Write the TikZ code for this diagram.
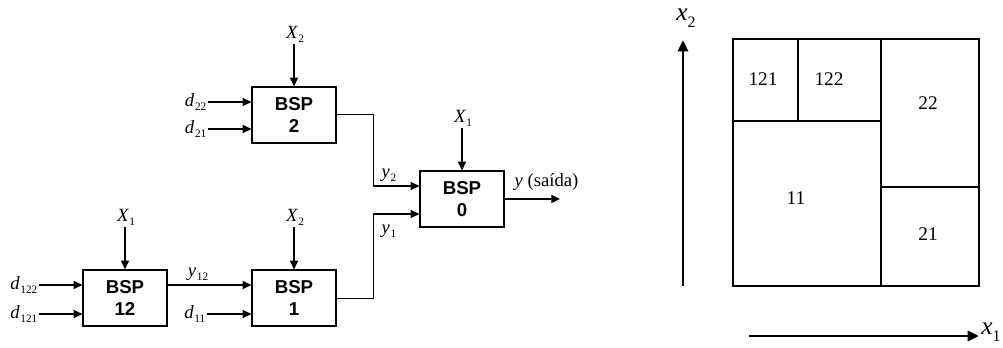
\documentclass[tikz,border=0pt]{standalone}
\usepackage{fontspec}
\setmainfont{Liberation Serif}
\newfontfamily\arialfont{Liberation Sans}
\usetikzlibrary{arrows.meta}
\newcommand\isub[2]{{\itshape #1}\kern0.6pt\raisebox{-0.45ex}{\fontsize{8.5}{9}\selectfont #2}}
\tikzset{
  bsp/.style={draw, line width=0.9pt, minimum width=63pt, minimum height=42pt, align=center,
    font=\arialfont\bfseries\fontsize{14}{16}\selectfont, inner sep=0pt},
  lab/.style={inner sep=1pt, font=\fontsize{14}{16}\selectfont},
  arr/.style={line width=0.9pt, -{Triangle[length=6.5pt,width=6pt]}},
  wire/.style={line width=0.7pt},
  outer/.style={line width=1.1pt},
  div/.style={line width=1.6pt},
  reg/.style={inner sep=0pt, font=\fontsize{14.5}{16}\selectfont},
  axis/.style={line width=2pt, -{Triangle[length=8.5pt,width=7.5pt]}},
}
\begin{document}
\begin{tikzpicture}[x=0.75pt,y=-0.75pt]
\useasboundingbox (0,0) rectangle (1003,347);
% boxes
\node[bsp] (b2) at (294,115) {BSP\\2};
\node[bsp] (b0) at (462,199) {BSP\\0};
\node[bsp] (b12) at (125,298) {BSP\\12};
\node[bsp] (b1) at (294,298) {BSP\\1};
% top inputs
\node[lab, anchor=south] (x2a) at (295,44) {\isub{X}{2}};
\node[lab, anchor=south] (x1a) at (463,128) {\isub{X}{1}};
\node[lab, anchor=south] (x1b) at (126,227) {\isub{X}{1}};
\node[lab, anchor=south] (x2b) at (295,227) {\isub{X}{2}};
\draw[arr] (x2a.south -| b2) -- (b2.north);
\draw[arr] (x1a.south -| b0) -- (b0.north);
\draw[arr] (x1b.south -| b12) -- (b12.north);
\draw[arr] (x2b.south -| b1) -- (b1.north);
% side inputs
\node[lab, anchor=east] (d22) at (208,102) {\isub{d}{22}};
\node[lab, anchor=east] (d21) at (208,129) {\isub{d}{21}};
\node[lab, anchor=east] (d122) at (39,285) {\isub{d}{122}};
\node[lab, anchor=east] (d121) at (39,314) {\isub{d}{121}};
\node[lab, anchor=east] (d11) at (207,314) {\isub{d}{11}};
\draw[arr] (d22.east) -- (d22.east -| b2.west);
\draw[arr] (d21.east) -- (d21.east -| b2.west);
\draw[arr] (d122.east) -- (d122.east -| b12.west);
\draw[arr] (d121.east) -- (d121.east -| b12.west);
\draw[arr] (d11.east) -- (d11.east -| b1.west);
% y12
\coordinate (o12) at (167,285);
\draw[arr] (o12) -- (o12 -| b1.west);
\node[lab] (y12) at (198,274) {\isub{y}{12}};
% wires to BSP0
\coordinate (c2) at (373,114.7);
\coordinate (c1) at (373,298);
\coordinate (t2) at (373,186);
\coordinate (t1) at (373,214);
\draw[wire] (b2.east |- c2) -- (c2) -- (t2);
\draw[arr] (t2) -- (t2 -| b0.west);
\draw[wire] (b1.east |- c1) -- (c1) -- (t1);
\draw[arr] (t1) -- (t1 -| b0.west);
\node[lab] (y2) at (389,175) {\isub{y}{2}};
\node[lab] (y1) at (389,231) {\isub{y}{1}};
% output
\coordinate (out) at (560,199);
\draw[arr] (b0.east) -- (out);
\node[lab, anchor=south west] (ylab) at (513,192) {\textit{y} (saída)};
% right panel
\draw[outer] (733,39) rectangle (979,286);
\draw[div] (881,39) -- (881,286);
\draw[div] (733,121) -- (881,121);
\draw[div] (798,39) -- (798,121);
\draw[div] (881,187) -- (979,187);
\node[reg] (r121) at (763,79) {121};
\node[reg] (r122) at (829,79) {122};
\node[reg] (r22) at (928,103) {22};
\node[reg] (r11) at (796,198) {11};
\node[reg] (r21) at (928,234) {21};
% axes
\coordinate (a2s) at (683,286);
\coordinate (a2e) at (683,40);
\draw[axis] (a2s) -- (a2e);
\node[inner sep=0pt, font=\fontsize{19}{21}\selectfont] (lx2) at (686,18) {{\itshape x}\raisebox{-0.55ex}{\fontsize{12}{13}\selectfont 2}};
\coordinate (a1s) at (749,336);
\coordinate (a1e) at (979,336);
\draw[axis] (a1s) -- (a1e);
\node[inner sep=0pt, anchor=west, font=\fontsize{19}{21}\selectfont] (lx1) at (981,332) {{\itshape x}\raisebox{-0.55ex}{\fontsize{12}{13}\selectfont 1}};
\end{tikzpicture}
\end{document}
